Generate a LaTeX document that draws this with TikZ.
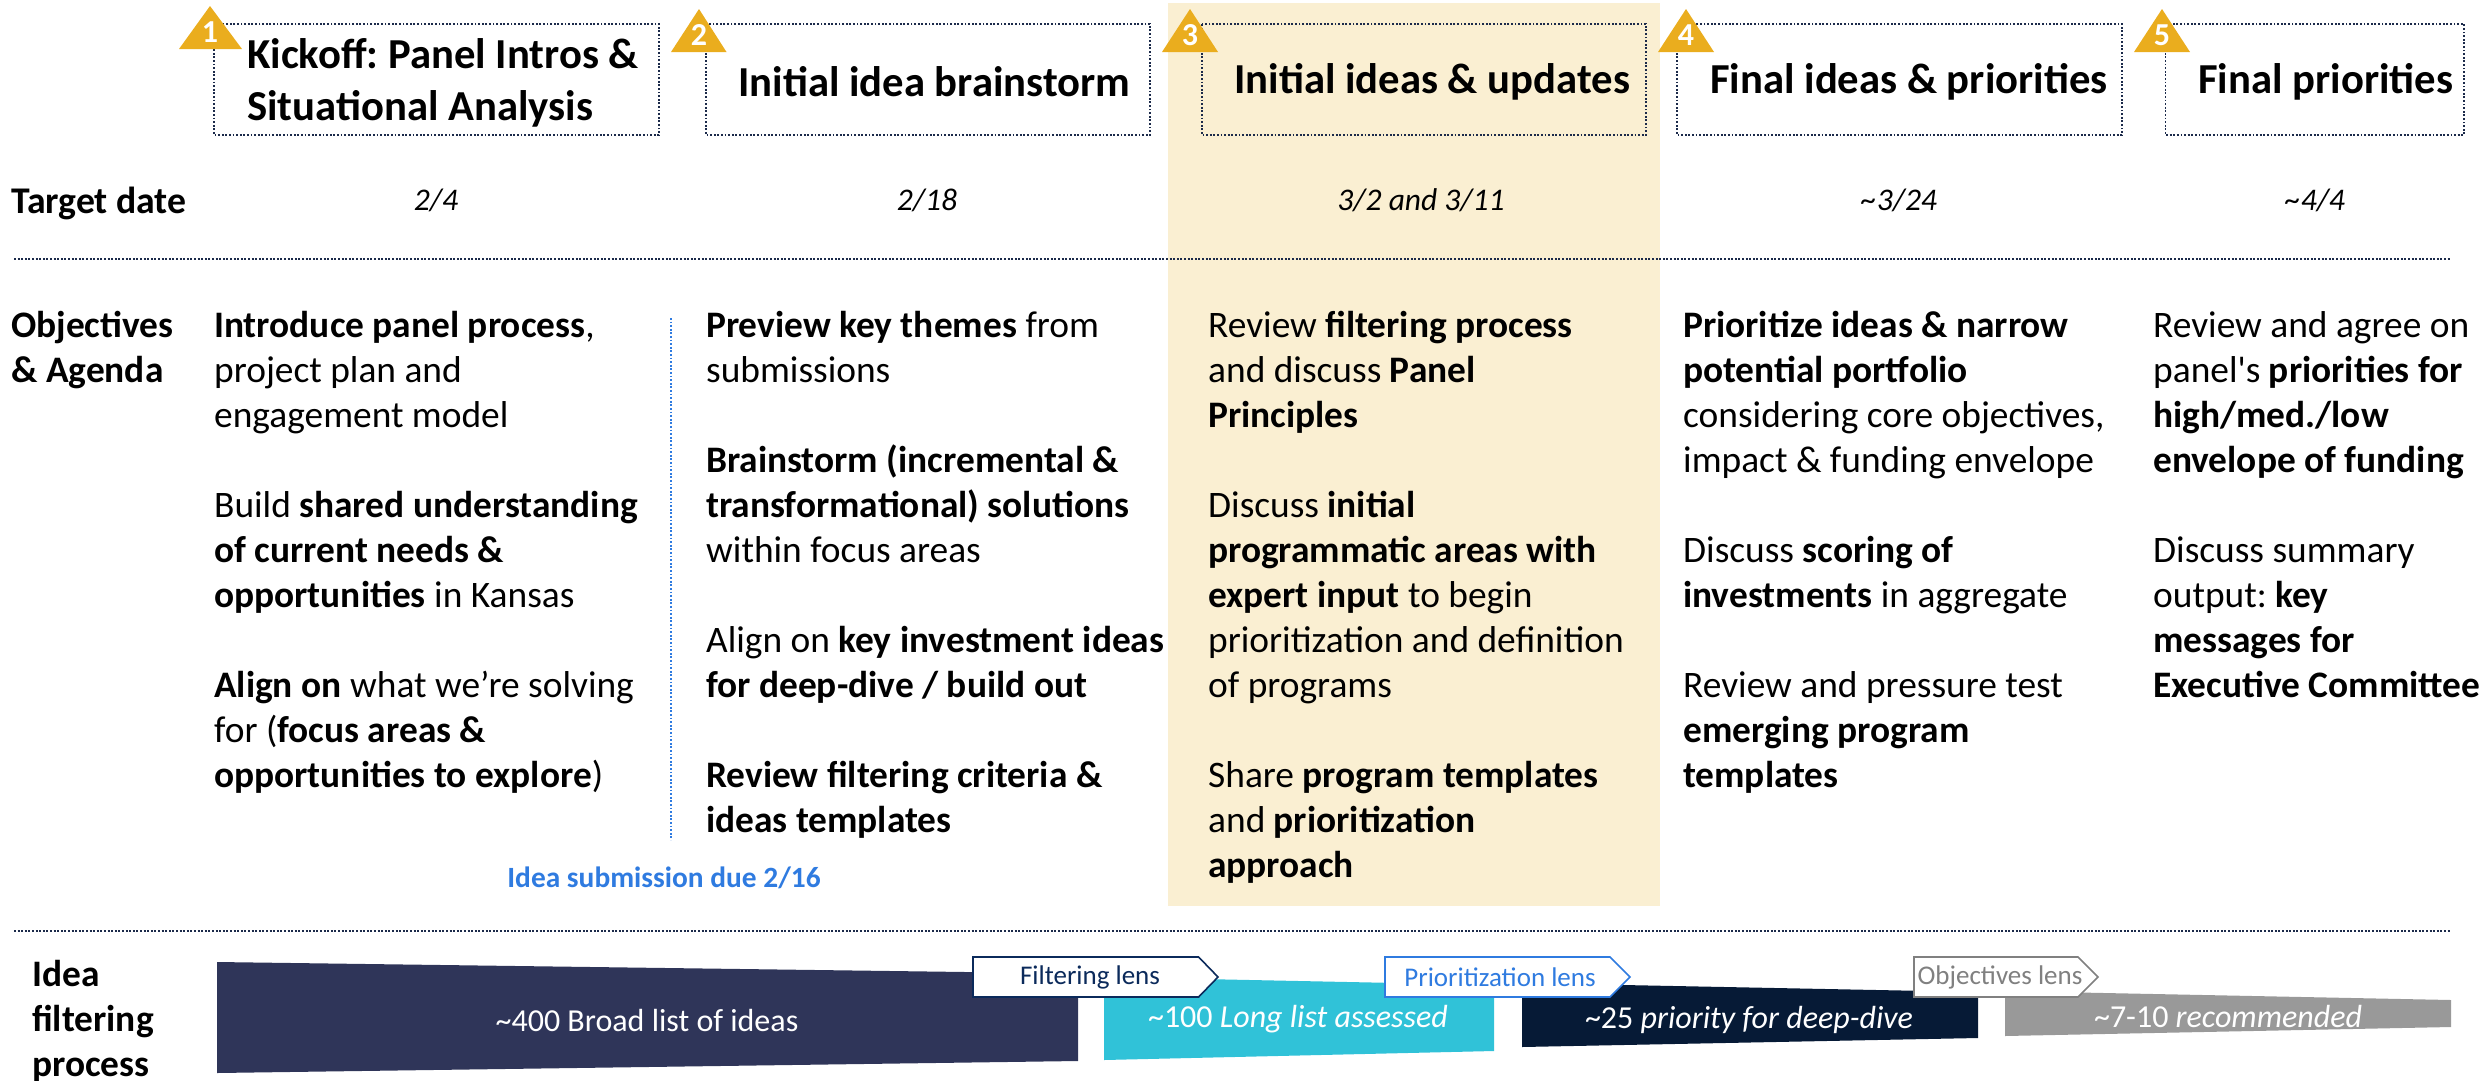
\documentclass[tikz,border=0pt]{standalone}
\usepackage{fontspec}
\setmainfont{Carlito}
\frenchspacing
\definecolor{hl}{HTML}{FAEFD2}
\definecolor{tri}{HTML}{EAAD1E}
\definecolor{dots}{HTML}{1B2A4A}
\definecolor{navyA}{HTML}{2F3559}
\definecolor{cyanA}{HTML}{30C2D8}
\definecolor{navyB}{HTML}{061A36}
\definecolor{grayA}{HTML}{999999}
\definecolor{blueA}{HTML}{2F7BE0}
\definecolor{lensA}{HTML}{0B2A5B}
\definecolor{lensC}{HTML}{808080}
\tikzset{
  titlebox/.style={draw=dots,line width=1.2pt,dash pattern=on 1.8pt off 1.8pt,fill=none},
  sepline/.style={draw=dots,line width=1.6pt,dash pattern=on 2pt off 1.6pt},
  badge/.style={fill=tri},
  badgenum/.style={inner sep=0pt,text=white,font=\fontsize{32}{34}\selectfont\bfseries},
  titletxt/.style={inner sep=0pt,anchor=north west,align=left,font=\fontsize{42.7}{52.5}\selectfont\bfseries},
  title1/.style={inner sep=0pt,anchor=west,font=\fontsize{42.7}{52.5}\selectfont\bfseries},
  body/.style={inner sep=0pt,anchor=north west,align=left,font=\fontsize{37.4}{45}\selectfont},
  bodybold/.style={body,font=\fontsize{37.4}{45}\selectfont\bfseries},
  datetxt/.style={inner sep=0pt,font=\fontsize{31.5}{36}\selectfont\itshape},
  bartxt/.style={inner sep=0pt,text=white,font=\fontsize{32}{36}\selectfont},
  lenstxt/.style={inner sep=0pt,font=\fontsize{27}{32}\selectfont},
  lens/.style={fill=white,line width=1.6pt},
}
\begin{document}
\begin{tikzpicture}[x=1pt,y=-1pt]
\useasboundingbox (0,0) rectangle (2492,1080);
% highlight
\fill[hl] (1168,3) rectangle (1660,906);
% title boxes
\draw[titlebox] (214,24) rectangle (659,135);
\draw[titlebox] (706,24) rectangle (1150,135);
\draw[titlebox] (1202,24) rectangle (1646,135);
\draw[titlebox] (1677,24) rectangle (2122,135);
\draw[titlebox] (2165.5,24) rectangle (2464,135);
% badges
\fill[badge] (210,6) -- (242,49) -- (179,49) -- cycle;
\fill[badge] (699,9) -- (726.5,52) -- (671,52) -- cycle;
\fill[badge] (1190,9) -- (1218,52) -- (1162,52) -- cycle;
\fill[badge] (1686,9) -- (1714,52) -- (1658,52) -- cycle;
\fill[badge] (2162,9) -- (2190,52) -- (2134,52) -- cycle;
\node[badgenum] (n1) at (210,32) {1};
\node[badgenum] (n2) at (699,35) {2};
\node[badgenum] (n3) at (1190,35) {3};
\node[badgenum] (n4) at (1686,35) {4};
\node[badgenum] (n5) at (2162,35) {5};
% titles
\node[titletxt] (t1) at (247,38) {Kickoff: Panel Intros \&\\Situational Analysis};
\node[title1] (t2) at (738,82) {Initial idea brainstorm};
\node[title1] (t3) at (1234,82) {Initial ideas \& updates};
\node[title1] (t4) at (1710,82) {Final ideas \& priorities};
\node[title1] (t5) at (2198,82) {Final priorities};
% target date row
\node[inner sep=0pt,anchor=west,font=\fontsize{37.7}{40}\selectfont\bfseries] (td) at (11,203) {Target date};
\node[datetxt] (d1) at (436,200) {2/4};
\node[datetxt] (d2) at (927,200) {2/18};
\node[datetxt] (d3) at (1421,200) {3/2 and 3/11};
\node[datetxt] (d4) at (1899,200) {\textasciitilde 3/24};
\node[datetxt] (d5) at (2315,200) {\textasciitilde 4/4};
% separators
\coordinate (s1a) at (14,259); \coordinate (s1b) at (2450,259);
\coordinate (s2a) at (14,931); \coordinate (s2b) at (2451,931);
\draw[sepline] (s1a) -- (s1b);
\draw[sepline] (s2a) -- (s2b);
\coordinate (v1) at (671,318); \coordinate (v2) at (671,840);
\draw[blueA,line width=1.2pt,dash pattern=on 1.8pt off 1.8pt] (v1) -- (v2);
% body
\node[bodybold] (lab) at (11,311) {Objectives\\\&\ Agenda};
\node[body] (c1) at (214,311) {\textbf{Introduce panel process},\\project plan and\\engagement model\\[45pt]Build \textbf{shared understanding}\\\textbf{of current needs \&}\\\textbf{opportunities} in Kansas\\[45pt]\textbf{Align on} what we’re solving\\for (\textbf{focus areas \&}\\\textbf{opportunities to explore})};
\node[body] (c2) at (706,311) {\textbf{Preview key themes} from\\submissions\\[45pt]\textbf{Brainstorm (incremental \&}\\\textbf{transformational) solutions}\\within focus areas\\[45pt]Align on \textbf{key investment ideas}\\\textbf{for deep-dive / build out}\\[45pt]\textbf{Review filtering criteria \&}\\\textbf{ideas templates}};
\node[body] (c3) at (1208,311) {Review \textbf{filtering process}\\and discuss \textbf{Panel}\\\textbf{Principles}\\[45pt]Discuss \textbf{initial}\\\textbf{programmatic areas with}\\\textbf{expert input} to begin\\prioritization and definition\\of programs\\[45pt]Share \textbf{program templates}\\and \textbf{prioritization}\\\textbf{approach}};
\node[body] (c4) at (1683,311) {\textbf{Prioritize ideas \& narrow}\\\textbf{potential portfolio}\\considering core objectives,\\impact \& funding envelope\\[45pt]Discuss \textbf{scoring of}\\\textbf{investments} in aggregate\\[45pt]Review and pressure test\\\textbf{emerging program}\\\textbf{templates}};
\node[body] (c5) at (2153,311) {Review and agree on\\panel\textquotesingle s \textbf{priorities for}\\\textbf{high/med./low}\\\textbf{envelope of funding}\\[45pt]Discuss summary\\output: \textbf{key}\\\textbf{messages for}\\\textbf{Executive Committee}};
\node[inner sep=0pt,text=blueA,font=\fontsize{29.4}{32}\selectfont\bfseries] (sub) at (664,878) {Idea submission due 2/16};
% filter row
\node[bodybold] (idea) at (32,960) {Idea\\filtering\\process};
\fill[navyA] (217,962) -- (1078,973.5) -- (1078,1061) -- (217,1073) -- cycle;
\fill[cyanA] (1104,977) -- (1494,985) -- (1494,1051) -- (1104,1060) -- cycle;
\fill[navyB] (1522,983) -- (1978,992) -- (1978,1038) -- (1522,1047) -- cycle;
\fill[grayA] (2005,991) -- (2451,1000) -- (2451,1027) -- (2005,1036) -- cycle;
\node[bartxt] (b1) at (647,1020) {\textasciitilde 400 Broad list of ideas};
\node[bartxt] (b2) at (1298,1019) {\textasciitilde 100 \textit{Long list assessed}};
\node[bartxt] (b3) at (1749,1020) {\textasciitilde 25 \textit{priority for deep-dive}};
\node[bartxt] (b4) at (2228,1016) {\textasciitilde 7-10 \textit{recommended}};
\draw[lens,draw=lensA] (973,957) -- (1198.6,957) -- (1218,977) -- (1198.6,997) -- (973,997) -- cycle;
\draw[lens,draw=blueA] (1385,957) -- (1610,957) -- (1630,977) -- (1610,997) -- (1385,997) -- cycle;
\draw[lens,draw=lensC] (1914,957) -- (2078,957) -- (2098,977) -- (2078,997) -- (1914,997) -- cycle;
\node[lenstxt,text=lensA] (l1) at (1090,977) {Filtering lens};
\node[lenstxt,text=blueA] (l2) at (1500,977) {Prioritization lens};
\node[lenstxt,text=lensC] (l3) at (2000,977) {Objectives lens};
\end{tikzpicture}
\end{document}
